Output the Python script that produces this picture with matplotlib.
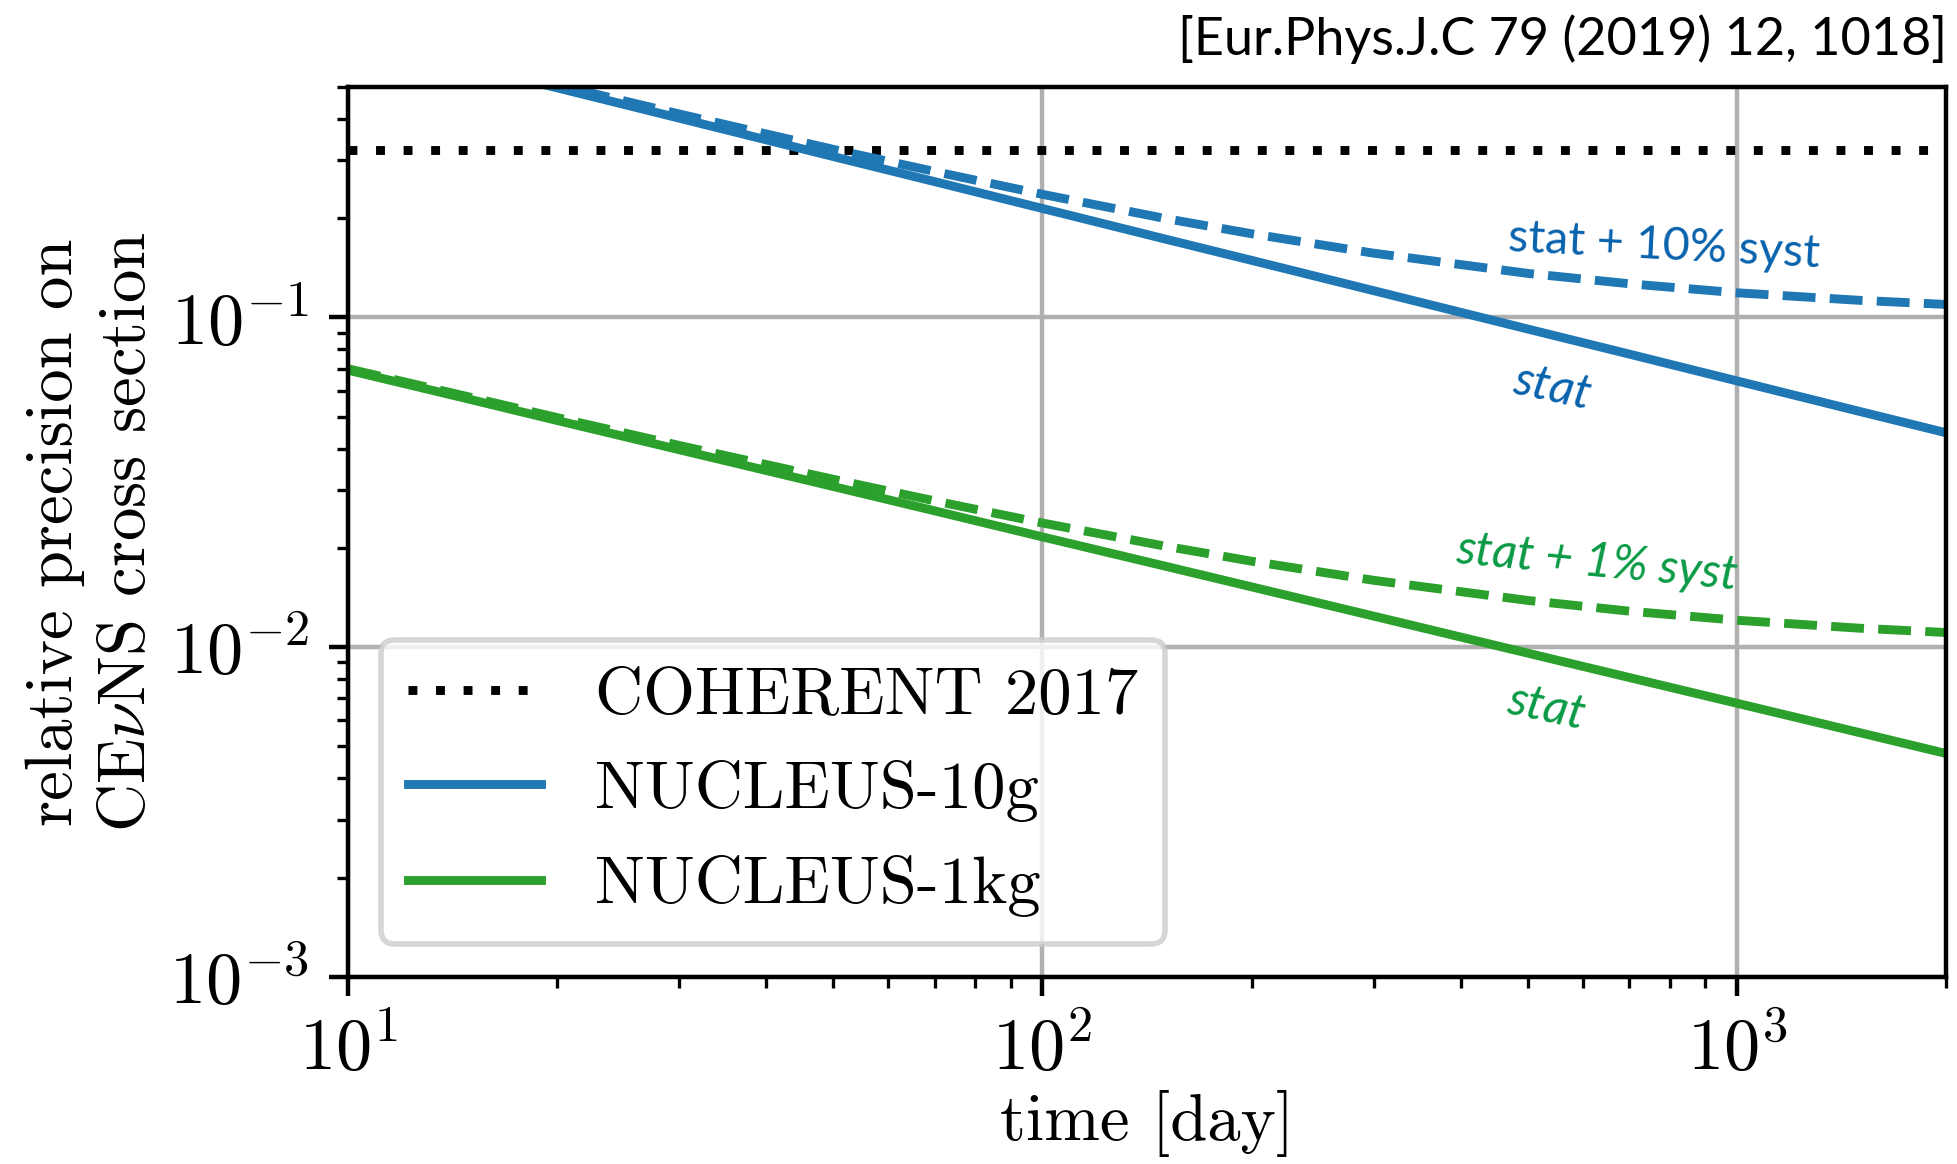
import numpy as np
import matplotlib
matplotlib.use("Agg")
import matplotlib.pyplot as plt

plt.rcParams['font.family'] = 'serif'
plt.rcParams['font.serif'] = ['cmr10']
plt.rcParams['mathtext.fontset'] = 'cm'
plt.rcParams['axes.formatter.use_mathtext'] = True
plt.rcParams['axes.unicode_minus'] = True
plt.rcParams['font.size'] = 12

# time in days
t = [10, 15, 20, 30, 50, 70, 100, 150, 200, 300, 500, 700, 1000, 1500, 2000]

# NUCLEUS-10g
g10_stat = [0.714, 0.577, 0.497, 0.402, 0.3075, 0.258, 0.214, 0.173, 0.149,
            0.1205, 0.0922, 0.0774, 0.0642, 0.0519, 0.0447]
g10_syst = [0.721, 0.586, 0.507, 0.414, 0.3234, 0.2769, 0.2362, 0.1997, 0.1794,
            0.1566, 0.136, 0.1265, 0.1188, 0.1127, 0.1095]

# NUCLEUS-1kg
kg1_stat = [0.0692, 0.0564, 0.0487, 0.0397, 0.0307, 0.0259, 0.0216, 0.01762,
            0.01524, 0.01242, 0.00959, 0.00809, 0.00676, 0.00551, 0.00476]
kg1_syst = [0.0699, 0.0573, 0.0497, 0.0409, 0.0323, 0.02777, 0.0238, 0.02026,
            0.01823, 0.01595, 0.01386, 0.01286, 0.01207, 0.01142, 0.01108]

coherent = 0.321

blue = '#1f77b4'
green = '#2ca02c'

fig = plt.figure(figsize=(1957/400, 1164/400), dpi=400)
ax = fig.add_axes([0.1778, 0.1607, 0.8166, 0.7646])

ax.axhline(coherent, color='k', ls=(0, (1, 2.1)), lw=1.6, label='COHERENT 2017')
ax.plot(t, g10_stat, color=blue, lw=1.6, label='NUCLEUS-10g')
ax.plot(t, g10_syst, color=blue, lw=1.6, ls='--')
ax.plot(t, kg1_stat, color=green, lw=1.6, label='NUCLEUS-1kg')
ax.plot(t, kg1_syst, color=green, lw=1.6, ls='--')

ax.set_xscale('log')
ax.set_yscale('log')
ax.set_xlim(10, 2000)
ax.set_ylim(1e-3, 0.5)
ax.grid(True, which='major', color='#b0b0b0', lw=0.8)
ax.tick_params(which='major', length=3.5, width=0.8, labelsize=13)
ax.tick_params(which='minor', length=2, width=0.6)
for s in ax.spines.values():
    s.set_linewidth(0.8)

ax.set_xlabel('time [day]', labelpad=1)
ax.set_ylabel('relative precision on\nCE$\\nu$NS cross section', linespacing=1.3,
              labelpad=2)
ax.legend(loc='lower left', fancybox=True)

afont = 'Lato'
ax.text(785, 0.165, 'stat + 10% syst', color='#0862ad', family=afont, fontsize=8.4,
        rotation=-3, ha='center', va='center')
ax.text(542, 0.0615, 'stat', color='#0862ad', family=afont, fontsize=8.7,
        style='italic', rotation=-12, ha='center', va='center')
ax.text(628, 0.0181, 'stat + 1% syst', color='#0a9a45', family=afont, fontsize=8.7,
        style='italic', rotation=-5.4, ha='center', va='center')
ax.text(532, 0.00658, 'stat', color='#0a9a45', family=afont, fontsize=8.7,
        style='italic', rotation=-12, ha='center', va='center')

fig.text(0.995, 0.966, '[Eur.Phys.J.C 79 (2019) 12, 1018]', family=afont,
         fontsize=9.4, ha='right', va='center')

fig.savefig('out.png', dpi=400)
